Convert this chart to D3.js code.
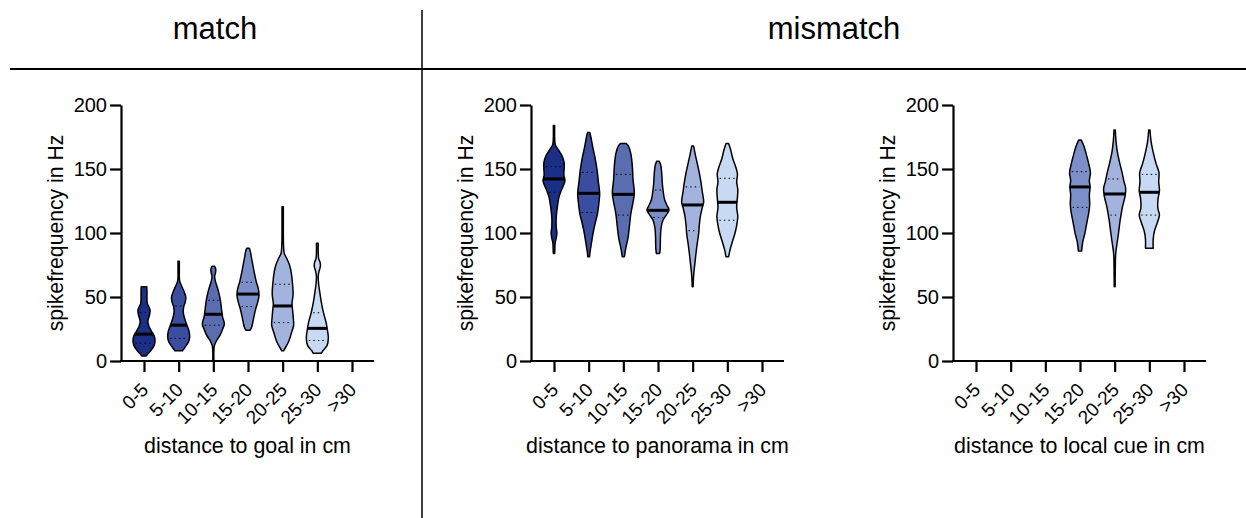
<!DOCTYPE html>
<html><head><meta charset="utf-8">
<script src="https://cdn.jsdelivr.net/npm/d3@7"></script>
<style>html,body{margin:0;padding:0;background:#fff;}svg{display:block;font-family:"Liberation Sans",Arial,sans-serif;}</style>
</head><body>
<svg id="chart" width="1246" height="518"></svg>
<script>
const categories = ["0-5","5-10","10-15","15-20","20-25","25-30",">30"];
const yTicks = [0,50,100,150,200];
const colors = ["#1c2f87","#3a4d9e","#5b6db1","#7d8fc8","#a2b4de","#c8d9f3"];
const groupTitles = ["match","mismatch"];
const panelTitles = ["distance to goal in cm","distance to panorama in cm","distance to local cue in cm"];
const yLabel = "spikefrequency in Hz";

// violin profiles: [spike frequency Hz, relative density]
const goalProfiles = [
  [[58,0.25],[55,0.27],[50,0.27],[45,0.3],[40,0.55],[36,0.5],[31,0.35],[27,0.45],[23,0.7],[19,0.95],[15,1.0],[11,0.85],[8,0.6],[5,0.3],[4,0.2]],
  [[78,0.06],[70,0.06],[63,0.08],[60,0.2],[55,0.45],[50,0.65],[46,0.6],[42,0.45],[38,0.42],[33,0.55],[28,0.75],[23,0.95],[19,1.0],[15,0.9],[11,0.6],[8,0.35]],
  [[74,0.12],[72,0.22],[69,0.2],[66,0.12],[62,0.2],[55,0.45],[47,0.65],[40,0.75],[34,0.85],[29,1.0],[25,0.85],[20,0.6],[16,0.3],[12,0.1],[8,0.05],[1,0.05]],
  [[88,0.12],[86,0.2],[80,0.33],[70,0.55],[62,0.75],[56,0.95],[51,1.0],[45,0.85],[40,0.68],[33,0.5],[27,0.35],[24,0.2]],
  [[120.5,0.06],[110,0.06],[100,0.06],[90,0.08],[84,0.15],[80,0.38],[75,0.62],[70,0.76],[60,0.9],[52,0.95],[45,0.85],[40,0.9],[33,0.97],[28,1.0],[22,0.8],[16,0.58],[12,0.35],[8,0.08]],
  [[92,0.08],[85,0.08],[80,0.12],[77,0.25],[74,0.28],[70,0.15],[66,0.08],[60,0.12],[55,0.2],[45,0.38],[38,0.55],[30,0.8],[24,0.92],[18,1.0],[12,0.88],[8,0.5],[6,0.38]],
  null
];
const goalMedian = [21,28,36.5,52.3,43,25.5,null];
const goalQ1 = [14,17.7,28,42.5,30,16,null];
const goalQ3 = [38,43,47.4,61.5,60,37.7,null];

const panoProfiles = [
  [[184,0.06],[175,0.06],[169,0.12],[165,0.4],[160,0.75],[155,0.92],[150,0.92],[145,0.9],[141,1.0],[137,0.85],[133,0.65],[128,0.45],[120,0.3],[112,0.2],[105,0.2],[100,0.26],[96,0.2],[92,0.1],[88,0.08],[84,0.06]],
  [[178.6,0.1],[175,0.2],[168,0.35],[160,0.55],[150,0.75],[140,0.88],[131,1.0],[125,0.95],[115,0.8],[108,0.6],[100,0.4],[92,0.25],[85,0.12],[81.5,0.08]],
  [[170,0.25],[168,0.45],[162,0.68],[152,0.82],[142,0.88],[131,1.0],[124,0.88],[115,0.68],[105,0.55],[96,0.42],[88,0.22],[81.5,0.1]],
  [[156,0.12],[153,0.25],[145,0.35],[138,0.4],[132,0.48],[126,0.6],[121,0.85],[118,1.0],[114,0.75],[110,0.45],[104,0.28],[96,0.22],[88,0.2],[84,0.15]],
  [[168,0.08],[162,0.22],[155,0.4],[148,0.58],[140,0.75],[132,0.88],[124,1.0],[119,0.85],[113,0.7],[106,0.6],[100,0.55],[92,0.42],[84,0.3],[76,0.2],[70,0.12],[63,0.06],[58,0.04]],
  [[170,0.12],[165,0.3],[158,0.5],[152,0.75],[146,0.92],[140,0.85],[134,0.95],[128,0.92],[120,0.85],[113,0.95],[106,0.85],[100,0.7],[93,0.45],[87,0.25],[81.5,0.12]],
  null
];
const panoMedian = [142.2,131,130.2,117.7,121.9,124,null];
const panoQ1 = [131.8,116,114,112.2,101.8,110,null];
const panoQ3 = [151.8,147.4,145.8,133.6,136,142.7,null];

const cueProfiles = [
  null, null, null,
  [[172.6,0.12],[168,0.35],[160,0.62],[153,0.82],[147,0.95],[141,0.85],[136,0.92],[130,0.85],[122,0.88],[116,0.8],[108,0.62],[100,0.45],[93,0.25],[86,0.15]],
  [[180.5,0.06],[172,0.12],[163,0.25],[155,0.45],[147,0.68],[140,0.85],[135,1.0],[129,0.95],[120,0.7],[110,0.5],[100,0.35],[92,0.22],[86,0.12],[82,0.08],[75,0.06],[58,0.04]],
  [[180.5,0.06],[172,0.15],[162,0.38],[154,0.62],[147,0.88],[140,0.85],[133,0.92],[126,0.78],[119,0.78],[114,0.92],[108,0.72],[101,0.45],[95,0.35],[88,0.35]],
  null
];
const cueMedian = [null,null,null,136,130.5,131.8,null];
const cueQ1 = [null,null,null,120,114,114,null];
const cueQ3 = [null,null,null,147.9,142.2,145.8,null];

const svg = d3.select("#chart");
const FONT = '"Liberation Sans",Arial,sans-serif';

// header
svg.append("line").attr("x1",10).attr("x2",1246).attr("y1",69).attr("y2",69).attr("stroke","#000").attr("stroke-width",2);
svg.append("line").attr("x1",422).attr("x2",422).attr("y1",10).attr("y2",518).attr("stroke","#000").attr("stroke-width",1.5);
svg.append("text").attr("x",215).attr("y",39).attr("text-anchor","middle").attr("font-size",31).text(groupTitles[0]);
svg.append("text").attr("x",834).attr("y",39).attr("text-anchor","middle").attr("font-size",31).text(groupTitles[1]);

const y = d3.scaleLinear().domain([0,200]).range([361,105]);
const wScale = d3.scaleLinear().domain([0,1]).range([0,11]);

function widthAt(prof, v){
  for(let i=0;i<prof.length-1;i++){
    const a=prof[i], b=prof[i+1];
    if((v<=a[0] && v>=b[0])){
      const t=(v-a[0])/(b[0]-a[0]);
      return a[1]+(b[1]-a[1])*t;
    }
  }
  return 0;
}

const panels = [
  {ax:121, profiles:goalProfiles, med:goalMedian, q1:goalQ1, q3:goalQ3, title:panelTitles[0]},
  {ax:531, profiles:panoProfiles, med:panoMedian, q1:panoQ1, q3:panoQ3, title:panelTitles[1]},
  {ax:953, profiles:cueProfiles, med:cueMedian, q1:cueQ1, q3:cueQ3, title:panelTitles[2]}
];

panels.forEach(p=>{
  const g = svg.append("g");
  const x = d3.scalePoint().domain(categories).range([p.ax+23, p.ax+231]);
  const xEnd = p.ax+253;

  // violins
  p.profiles.forEach((prof,i)=>{
    if(!prof) return;
    const cx = x(categories[i]);
    const area = d3.area()
      .y(d=>y(d[0]))
      .x0(d=>cx-wScale(d[1]))
      .x1(d=>cx+wScale(d[1]))
      .curve(d3.curveCatmullRom.alpha(0.5));
    g.append("path").datum(prof).attr("d",area)
      .attr("fill",colors[i]).attr("stroke","#000").attr("stroke-width",1.5).attr("stroke-linejoin","round");
    [[p.q1[i],"q"],[p.q3[i],"q"],[p.med[i],"m"]].forEach(([v,k])=>{
      const hw = wScale(widthAt(prof,v)) - (k==="m"?0:2);
      const l = g.append("line").attr("x1",cx-hw).attr("x2",cx+hw).attr("y1",y(v)).attr("y2",y(v)).attr("stroke","#000");
      if(k==="m") l.attr("stroke-width",3);
      else l.attr("stroke-width",1).attr("stroke-dasharray","1.5,3");
    });
  });

  // y axis
  const ya = g.append("g").attr("transform",`translate(${p.ax},0)`)
    .call(d3.axisLeft(y).tickValues(yTicks).tickSize(11).tickSizeOuter(0).tickPadding(3));
  ya.select(".domain").attr("stroke-width",2.2);
  ya.selectAll(".tick line").attr("stroke-width",2.2);
  ya.selectAll("text").attr("font-size",20).attr("font-family",FONT).attr("fill","#000");

  // x axis
  const xa = g.append("g").attr("transform",`translate(0,${y(0)})`)
    .call(d3.axisBottom(x).tickSize(11).tickSizeOuter(0));
  xa.select(".domain").remove();
  xa.append("line").attr("x1",p.ax-1).attr("x2",xEnd).attr("y1",0).attr("y2",0).attr("stroke","#000").attr("stroke-width",2.2);
  xa.selectAll(".tick line").attr("stroke-width",2.2);
  xa.selectAll(".tick text").attr("font-size",19).attr("font-family",FONT).attr("fill","#000")
    .attr("text-anchor","end").attr("dy",0).attr("y",0).attr("x",0)
    .attr("transform","translate(5,30) rotate(-45)");

  // titles
  g.append("text").attr("x",(p.ax+xEnd)/2).attr("y",453).attr("text-anchor","middle").attr("font-size",21.4).text(p.title);
  g.append("text").attr("transform",`translate(${p.ax-58},${(y(0)+y(200))/2}) rotate(-90)`)
    .attr("text-anchor","middle").attr("font-size",21.2).text(yLabel);
});
</script>
</body></html>
